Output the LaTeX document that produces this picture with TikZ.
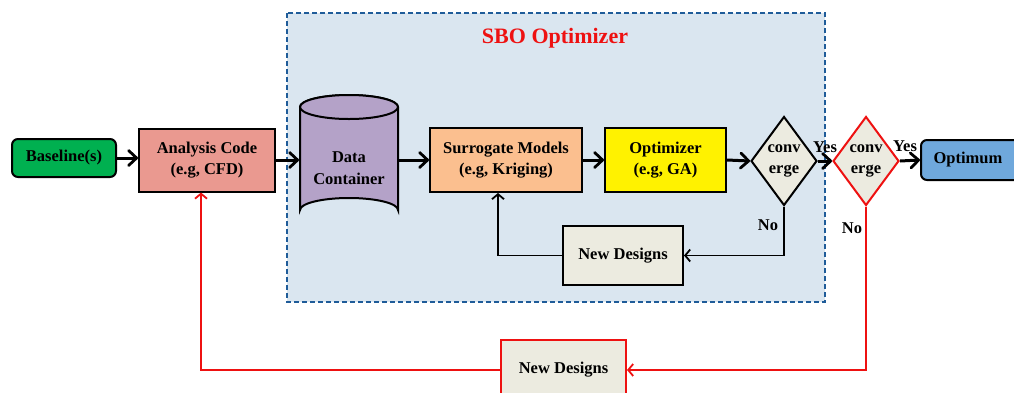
\documentclass[tikz,border=0pt]{standalone}
\usepackage{fontspec}
\setmainfont{Liberation Serif}
\usetikzlibrary{arrows.meta,shapes.geometric}
\definecolor{bgblue}{HTML}{DAE6F0}
\definecolor{dashblue}{HTML}{1F5C99}
\definecolor{bgreen}{HTML}{00B050}
\definecolor{salmon}{HTML}{EA9990}
\definecolor{lilac}{HTML}{B4A2C8}
\definecolor{peach}{HTML}{FBBF8F}
\definecolor{ndfill}{HTML}{ECEBE0}
\definecolor{optblue}{HTML}{6FA8DC}
\definecolor{sred}{HTML}{EE1111}
\tikzset{
  txt/.style={font=\bfseries\fontsize{16.5}{21.5}\selectfont},
  box/.style={draw=black, line width=2pt, inner sep=0pt, align=center, txt},
  dia/.style={diamond, draw=black, line width=2pt, fill=ndfill, inner sep=0pt, minimum width=54pt, minimum height=89pt, align=center, txt},
  main/.style={line width=3pt, -{Straight Barb[length=8pt,width=15pt,line width=2.8pt,round]}},
  fb/.style={line width=1.8pt, -{Straight Barb[length=5pt,width=12pt,line width=1.8pt]}},
  lbl/.style={txt, inner sep=0pt}
}
\begin{document}
\begin{tikzpicture}[x=1pt,y=-1pt]
\useasboundingbox (0,0) rectangle (1014,392);
\clip (0,0) rectangle (1014,392);
% SBO frame
\draw[fill=bgblue, draw=dashblue, line width=1.5pt, dash pattern=on 5pt off 3pt] (287,13) rectangle (825,302);
\node[text=sred, font=\bfseries\fontsize{22}{26}\selectfont] (title) at (555,38) {SBO Optimizer};
% nodes
\node[box, rounded corners=6pt, fill=bgreen, minimum width=104pt, minimum height=38pt] (base) at (64,158) {Baseline(s)};
\node[box, fill=salmon, minimum width=136pt, minimum height=63pt] (ac) at (207,160) {Analysis Code\\(e.g, CFD)};
% cylinder
\draw[line width=2pt, fill=lilac] (300,107) -- (300,210) arc[start angle=180, end angle=360, x radius=49, y radius=12] -- (398,107) arc[start angle=0, end angle=-180, x radius=49, y radius=12] -- cycle;
\draw[line width=2pt, fill=lilac] (349,107) ellipse[x radius=49, y radius=12];
\node[box, draw=none, minimum width=98pt, minimum height=127pt] (dc) at (349,160) {};
\node[txt, align=center] (dct) at (349,168) {Data\\Container};
\node[box, fill=peach, minimum width=152pt, minimum height=64pt] (sm) at (506,160) {Surrogate Models\\(e.g, Kriging)};
\node[box, fill=yellow, minimum width=121pt, minimum height=64pt] (opt) at (665.5,160) {Optimizer\\(e.g, GA)};
\node[dia] (c1) at (784,161) {conv\\erge};
\node[dia, draw=sred] (c2) at (866,161) {conv\\erge};
\node[box, rounded corners=6pt, fill=optblue, minimum width=110pt, minimum height=40pt, anchor=west] (om) at (920,160) {\hspace*{-16pt}Optimum};
\node[box, fill=ndfill, minimum width=120pt, minimum height=59pt] (nd1) at (623,255.5) {New Designs};
\node[box, draw=sred, fill=ndfill, minimum width=125pt, minimum height=60pt] (nd2) at (563.5,370) {New Designs};
% main flow
\draw[main] (base.east) -- (ac.west |- base.east);
\draw[main] (ac.east) -- (dc.west);
\draw[main] (dc.east) -- (sm.west);
\draw[main] (sm.east) -- (opt.west);
\draw[main] (opt.east) -- (c1.west);
\draw[main] (c1.east) -- (c2.west);
\draw[main] (c2.east) -- (om.west);
\node[lbl] (y1) at (825,147) {Yes};
\node[lbl] (y2) at (905,146) {Yes};
\node[lbl] (n1) at (768,225) {No};
\node[lbl] (n2) at (852,228) {No};
% inner loop
\draw[fb] (c1.south) |- (nd1.east);
\draw[fb] (nd1.west) -| (sm.south -| 498,0);
% outer loop
\draw[fb, draw=sred] (c2.south) |- (nd2.east);
\draw[fb, draw=sred] (nd2.west) -| (ac.south -| 201,0);
\end{tikzpicture}
\end{document}
